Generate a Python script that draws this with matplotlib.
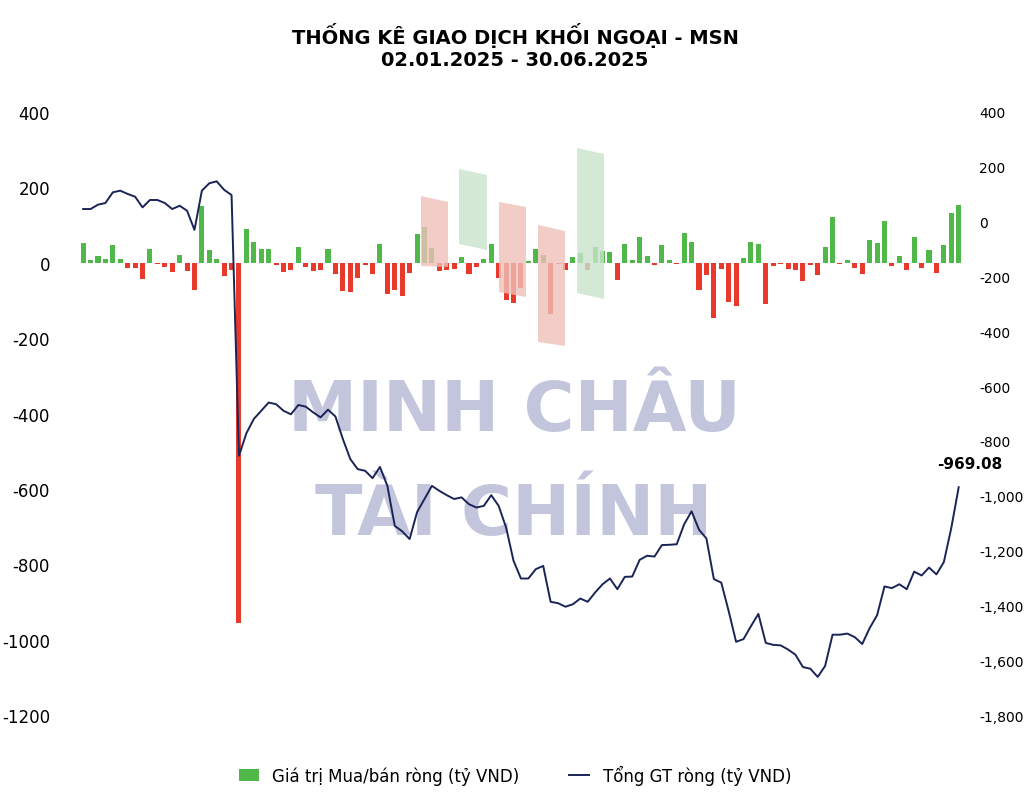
import matplotlib
matplotlib.use("Agg")
import matplotlib.pyplot as plt
from matplotlib.patches import Polygon
from matplotlib.ticker import FuncFormatter
import numpy as np

net_values = [52, 6, 19, 10, 48, 10, -14, -13, -44, 37, -3, -11, -25, 21, -22, -73, 150, 35, 10, -35,
              -20, -955, 90, 55, 37, 37, -7, -25, -18, 42, -10, -22, -20, 37, -31, -75, -78, -40, -7, -31,
              49, -82, -73, -87, -27, 75, 96, 40, -22, -19, -16, 15, -31, -12, 11, 49, -41, -100, -107, -66,
              5, 37, 20, -135, -4, -18, 15, 27, -18, 42, 31, 28, -45, 50, 6, 68, 18, -5, 46, 6,
              -3, 80, 55, -71, -32, -147, -16, -104, -116, 12, 55, 50, -109, -9, -3, -16, -20, -49, -7, -32,
              42, 121, -3, 8, -13, -29, 61, 53, 112, -9, 18, -20, 68, -14, 33, -27, 46, 132, 154]
cum_values = [46, 46, 62, 68, 107, 113, 101, 91, 52, 79, 79, 68, 46, 58, 40, -30, 113, 140, 147, 116,
              97, -854, -772, -720, -690, -660, -666, -690, -703, -669, -675, -696, -714, -686, -711, -793, -866, -903, -909, -936,
              -895, -964, -1110, -1130, -1158, -1060, -1012, -964, -982, -998, -1012, -1006, -1031, -1043, -1037, -998, -1037, -1116, -1237, -1302,
              -1302, -1268, -1256, -1387, -1392, -1405, -1396, -1375, -1387, -1353, -1323, -1302, -1341, -1296, -1295, -1234, -1219, -1222, -1180, -1179,
              -1177, -1104, -1057, -1124, -1156, -1304, -1317, -1421, -1533, -1523, -1476, -1431, -1537, -1544, -1546, -1561, -1580, -1625, -1631, -1661,
              -1621, -1507, -1507, -1503, -1516, -1541, -1483, -1436, -1331, -1337, -1323, -1341, -1277, -1291, -1262, -1287, -1242, -1118, -969.08]
left_ticks = [400, 200, 0, -200, -400, -600, -800, -1000, -1200]
right_ticks = [400, 200, 0, -200, -400, -600, -800, -1000, -1200, -1400, -1600, -1800]

W, H = 1030, 804
fig = plt.figure(figsize=(W/100, H/100), dpi=100)
ax = fig.add_axes([75/W, (H-716)/H, 890/W, 603/H])
ax2 = ax.twinx()
ax.patch.set_visible(False)
ax2.patch.set_visible(False)

def px(pts):
    return [(x/W, 1-y/H) for x, y in pts]

fig.text(514/W, 1-412/H, "MINH CHÂU", ha="center", va="center", fontsize=50,
         fontweight="bold", color="#c3c5dc", zorder=-5, family="DejaVu Sans")
fig.text(514/W, 1-515/H, "TÀI CHÍNH", ha="center", va="center", fontsize=50,
         fontweight="bold", color="#c3c5dc", zorder=-5, family="DejaVu Sans")

ribbons = [
    ([(421,197),(448,203),(448,268),(421,267)], "#efc0b8"),
    ([(459,170),(487,176),(487,251),(459,245)], "#c9e4cc"),
    ([(499,203),(526,208),(526,298),(499,293)], "#efc0b8"),
    ([(538,226),(565,232),(565,347),(538,343)], "#efc0b8"),
    ([(577,149),(604,155),(604,300),(577,294)], "#c9e4cc"),
]
for pts, c in ribbons:
    fig.patches.append(Polygon(px(pts), closed=True, transform=fig.transFigure,
                               facecolor=c, edgecolor="none", alpha=0.8, zorder=5))

x = np.arange(len(net_values))
colors = ["#4fb848" if v >= 0 else "#e8392c" for v in net_values]
ax.bar(x, net_values, width=0.68, color=colors, zorder=2, label="Giá trị Mua/bán ròng (tỷ VND)")
ax2.plot(x, cum_values, color="#1a2456", lw=1.4, zorder=3, label="Tổng GT ròng (tỷ VND)")

ax.set_xlim(-1.1, 118.85)
ax.set_ylim(-1200, 400)
ax2.set_ylim(-1800, 400)
ax.set_yticks(left_ticks)
ax2.set_yticks(right_ticks)
ax.set_yticklabels([str(t) for t in left_ticks])
ax2.yaxis.set_major_formatter(FuncFormatter(lambda v, p: f"{int(v):,}"))
ax.set_xticks([])
for a in (ax, ax2):
    for s in a.spines.values():
        s.set_visible(False)
    a.tick_params(length=0)
ax.tick_params(axis="y", labelsize=12, pad=18)
ax2.tick_params(axis="y", labelsize=10, pad=10)

ax2.annotate(f"{cum_values[-1]:.2f}", (x[-1], cum_values[-1]), xytext=(8, 12),
             textcoords="offset points", ha="center", va="bottom", fontsize=11, fontweight="bold")

fig.text(0.5, 1-35/H, "THỐNG KÊ GIAO DỊCH KHỐI NGOẠI - MSN", ha="center", va="center",
         fontsize=14, fontweight="bold")
fig.text(0.5, 1-60/H, "02.01.2025 - 30.06.2025", ha="center", va="center",
         fontsize=14, fontweight="bold")

h1, l1 = ax.get_legend_handles_labels()
h2, l2 = ax2.get_legend_handles_labels()
fig.legend(h1 + h2, l1 + l2, loc="center", bbox_to_anchor=(0.5, 1-776/H), ncol=2,
           frameon=False, fontsize=12, columnspacing=3, handlelength=1.2)

fig.savefig("out.png", dpi=100)
